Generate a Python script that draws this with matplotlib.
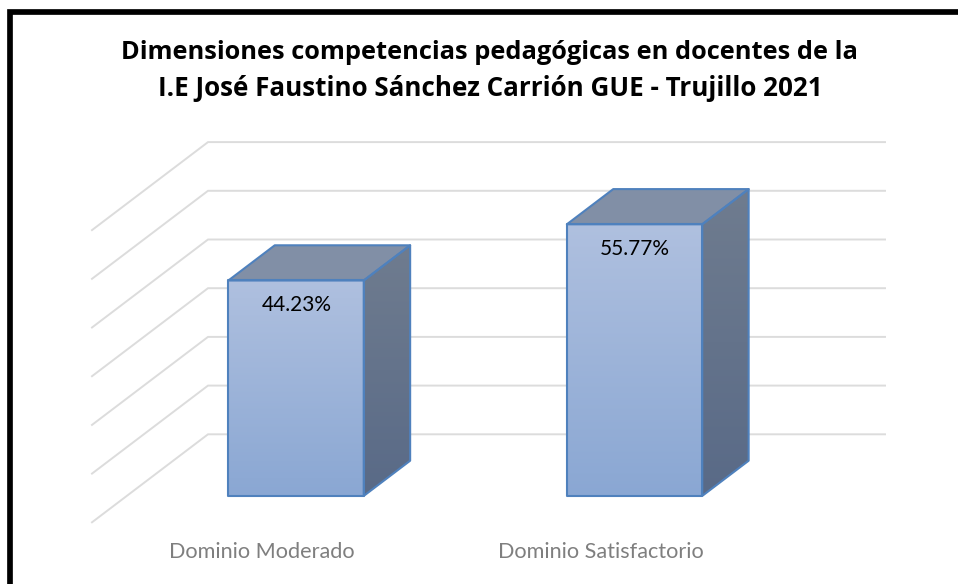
import numpy as np
import matplotlib
matplotlib.use('agg')
import matplotlib.pyplot as plt
from matplotlib.patches import Polygon

plt.rcParams['font.family'] = ['Lato', 'DejaVu Sans']

categories = ['Dominio Moderado', 'Dominio Satisfactorio']
values = [44.23, 55.77]
value_labels = ['44.23%', '55.77%']
grid_values = [0, 10, 20, 30, 40, 50, 60]
title_lines = ['Dimensiones competencias pedagógicas en docentes de la',
               'I.E José Faustino Sánchez Carrión GUE - Trujillo 2021']

# oblique projection of the excel 3d chart, result in pixels of the picture
X0 = 208.0      # back wall, left end
CAT_W = 338.5   # width of one category on the back wall
Y0 = 434.3      # back wall, value 0
PX_PER_UNIT = 4.87
DEPTH_X = -116.0
DEPTH_Y = 88.0


def proj(x, v, d):
    # x in categories, v in percent, d depth 0 (back) .. 1 (front)
    return (X0 + x * CAT_W + d * DEPTH_X, Y0 - v * PX_PER_UNIT + d * DEPTH_Y)


def gradient(ax, poly, top, bottom):
    top = np.array(matplotlib.colors.to_rgb(top))
    bottom = np.array(matplotlib.colors.to_rgb(bottom))
    t = np.linspace(0, 1, 200)[:, None, None]
    img = top + (bottom - top) * t
    pts = np.array(poly)
    extent = (pts[:, 0].min(), pts[:, 0].max(), pts[:, 1].max(), pts[:, 1].min())
    im = ax.imshow(img, extent=extent, aspect='auto', zorder=3, interpolation='bilinear')
    patch = Polygon(poly, closed=True, transform=ax.transData, fc='none', ec='none')
    ax.add_patch(patch)
    im.set_clip_path(patch)


fig = plt.figure(figsize=(9.58, 5.84), dpi=100)
ax = fig.add_axes([0, 0, 1, 1])

# gridlines: side wall and back wall
for v in grid_values:
    xs, ys = zip(proj(0, v, 1), proj(0, v, 0), proj(2, v, 0))
    ax.plot(xs, ys, color='#DCDCDC', lw=1.4, zorder=1, solid_joinstyle='miter')

bar_w = 0.4
edge = '#4F81BD'
for i, v in enumerate(values):
    x1 = i + 0.5 - bar_w / 2
    x2 = i + 0.5 + bar_w / 2
    d1, d2 = 0.3, 0.7
    front = [proj(x1, v, d2), proj(x2, v, d2), proj(x2, 0, d2), proj(x1, 0, d2)]
    side = [proj(x2, v, d2), proj(x2, v, d1), proj(x2, 0, d1), proj(x2, 0, d2)]
    top = [proj(x1, v, d2), proj(x1, v, d1), proj(x2, v, d1), proj(x2, v, d2)]
    gradient(ax, side, '#6F7C8F', '#596A87')
    gradient(ax, front, '#AFC0DF', '#8AA7D3')
    ax.add_patch(Polygon(top, closed=True, fc='#818FA6', ec='none', zorder=3))
    for poly in (side, top, front):
        ax.add_patch(Polygon(poly, closed=True, fc='none', ec=edge, lw=1.5, zorder=4, joinstyle='round'))
    lx, ly = proj(i + 0.5, v, d2)
    ax.text(lx + 0.3, ly + 25, value_labels[i], ha='center', va='center', fontsize=15, color='black', zorder=5)
    cx, _ = proj(i + 0.5, 0, 1)
    ax.text(cx + 1, 552.5, categories[i], ha='center', va='center', fontsize=15.6, color='#7F7F7F')

ax.text(489.5, 59, title_lines[0], ha='center', va='baseline', fontsize=18.25, fontweight='bold',
        family='Open Sans', color='black')
ax.text(490.4, 95.7, title_lines[1], ha='center', va='baseline', fontsize=18.7, fontweight='bold',
        family='Open Sans', color='black')

# black frame, only top and left
ax.plot([10.2, 10.2, 958], [584, 11.8, 11.8], color='black', lw=4.1, solid_joinstyle='miter', zorder=6)

ax.set_xlim(0, 958)
ax.set_ylim(584, 0)
ax.axis('off')

fig.savefig('out.png', dpi=100, facecolor='white')
